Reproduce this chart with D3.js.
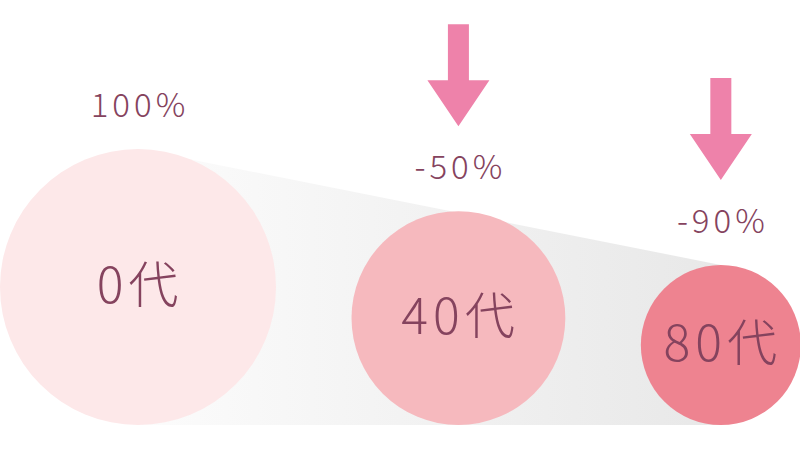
<!DOCTYPE html>
<html>
<head>
<meta charset="utf-8">
<script src="https://cdn.jsdelivr.net/npm/d3@7"></script>
<style>
html,body{margin:0;padding:0;background:#fff;}
svg{display:block;}
text{font-family:"Noto Sans CJK JP","Noto Sans",sans-serif;fill:#85435e;}
</style>
</head>
<body>
<svg id="chart" width="800" height="450"></svg>
<script>
const categories = ["0代", "40代", "80代"];
const values = [100, 50, 10];
const changeLabels = ["100%", "-50%", "-90%"];
const showArrow = [false, true, true];
const colors = ["#fde8e9", "#f6b9be", "#ee8390"];

const W = 800, H = 450;
const baseY = 425, gap = 75.5;
const svg = d3.select("#chart");

const r = d3.scalePow().exponent(0.92).domain([10, 100]).range([80, 138]);

// cumulative layout of circles from left
let acc = 0;
const nodes = categories.map((c, i) => {
  const rad = r(values[i]);
  const cx = acc + rad;
  acc += 2 * rad + gap;
  return {c, v: values[i], rad, cx, cy: baseY - rad, lab: changeLabels[i], arrow: showArrow[i], color: colors[i]};
});

// gradient trapezoid
const defs = svg.append("defs");
const first = nodes[0], last = nodes[nodes.length - 1];
const grad = defs.append("linearGradient").attr("id", "g")
  .attr("gradientUnits", "userSpaceOnUse")
  .attr("x1", first.cx).attr("x2", last.cx).attr("y1", 0).attr("y2", 0);
grad.append("stop").attr("offset", "0%").attr("stop-color", "#fcfcfc");
grad.append("stop").attr("offset", "100%").attr("stop-color", "#e8e8e8");

svg.append("path")
  .attr("d", d3.line()([[first.cx, first.cy - first.rad], [last.cx, last.cy - last.rad], [last.cx, baseY], [first.cx, baseY]]) + "Z")
  .attr("fill", "url(#g)");

// circles
svg.selectAll("circle.b").data(nodes).join("circle")
  .attr("class", "b")
  .attr("cx", d => d.cx).attr("cy", d => d.cy).attr("r", d => d.rad)
  .attr("fill", d => d.color);

// circle labels
svg.selectAll("text.cat").data(nodes).join("text")
  .attr("class", "cat")
  .attr("x", d => d.cx + 2).attr("y", d => d.cy + 16)
  .attr("text-anchor", "middle")
  .attr("font-size", 50)
  .attr("font-weight", 300)
  .attr("letter-spacing", 5)
  .text(d => d.c);

// percent labels
svg.selectAll("text.pct").data(nodes).join("text")
  .attr("class", "pct")
  .attr("x", d => d.cx + 2).attr("y", d => d.cy - d.rad - 32)
  .attr("text-anchor", "middle")
  .attr("font-size", 33)
  .attr("font-weight", 300)
  .attr("letter-spacing", 4)
  .text(d => d.lab);

// arrows
const aw = 21, hw = 62, alen = 102, hlen = 46;
svg.selectAll("path.arrow").data(nodes.filter(d => d.arrow)).join("path")
  .attr("class", "arrow")
  .attr("fill", "#ee82aa")
  .attr("d", d => {
    const tip = d.cy - d.rad - 85;
    const top = tip - alen;
    const hb = tip - hlen;
    return d3.line()([
      [d.cx - aw / 2, top], [d.cx + aw / 2, top], [d.cx + aw / 2, hb],
      [d.cx + hw / 2, hb], [d.cx, tip], [d.cx - hw / 2, hb], [d.cx - aw / 2, hb]
    ]) + "Z";
  });
</script>
</body>
</html>
